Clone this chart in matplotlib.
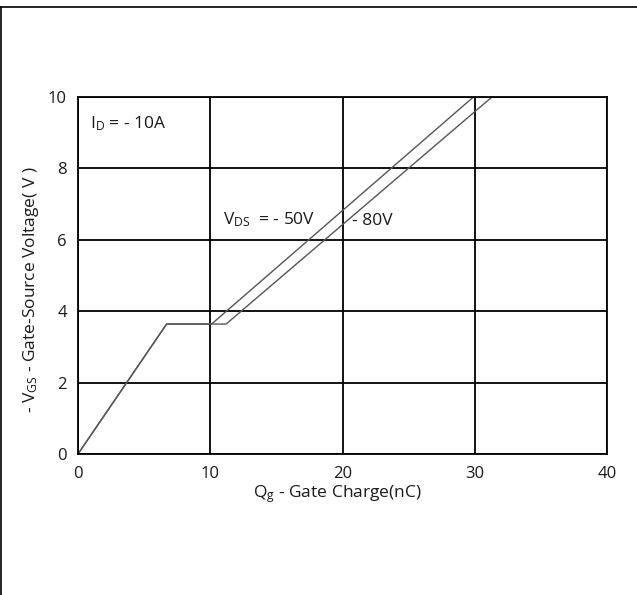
import matplotlib
matplotlib.use("Agg")
import matplotlib.pyplot as plt
from matplotlib.lines import Line2D

plt.rcParams["font.family"] = ["Open Sans", "DejaVu Sans"]
plt.rcParams["mathtext.fontset"] = "custom"
plt.rcParams["mathtext.rm"] = "Open Sans"
plt.rcParams["mathtext.it"] = "Open Sans"
plt.rcParams["mathtext.bf"] = "Open Sans:bold"

# Gate charge curves (Qg in nC, -VGS in V)
qg_50v = [0, 6.7, 10.1, 29.9]
vgs_50v = [0, 3.64, 3.64, 10]
qg_80v = [0, 6.7, 11.2, 31.3]
vgs_80v = [0, 3.64, 3.64, 10]

x_ticks = [0, 10, 20, 30, 40]
y_ticks = [0, 2, 4, 6, 8, 10]

TEXT = "#1a1a1a"
CURVE = "#555555"
FS = 12

fig = plt.figure(figsize=(6.37, 5.95), dpi=100)
ax = fig.add_axes([78 / 637, 1 - 454 / 595, 529 / 637, 357 / 595])

ax.plot(qg_50v, vgs_50v, color=CURVE, linewidth=1.0)
ax.plot(qg_80v, vgs_80v, color=CURVE, linewidth=1.0)

ax.set_xlim(0, 40)
ax.set_ylim(0, 10)
ax.set_xticks(x_ticks)
ax.set_yticks(y_ticks)
ax.grid(True, color="black", linewidth=1.3)
ax.tick_params(length=0, labelsize=FS, colors=TEXT)
ax.tick_params(axis="x", pad=9)
ax.tick_params(axis="y", pad=8)
for s in ax.spines.values():
    s.set_color("black")
    s.set_linewidth(1.3)

ax.set_xlabel("Q$_\\mathregular{g}$ - Gate Charge(nC)", fontsize=12.5, color=TEXT)
ax.xaxis.set_label_coords((337 - 78) / 529, -(483 - 454) / 357)
ax.set_ylabel("- V$_\\mathregular{GS}$ - Gate-Source Voltage( V )", fontsize=12.5, color=TEXT)
ax.yaxis.set_label_coords(-(78 - 41) / 529, (454 - 290) / 357)

ax.text(0.9, 9.24, "I$_\\mathregular{D}$ = - 10A", fontsize=12.5, color=TEXT, va="center")
ax.text(11.0, 6.57, "V$_\\mathregular{DS}$  = - 50V", fontsize=12.5, color=TEXT, va="center")
ax.text(20.75, 6.52, "- 80V", fontsize=12.5, color=TEXT, va="center")

# outer frame lines (top and left only)
fig.add_artist(Line2D([1.5 / 637, 1], [1 - 6.5 / 595, 1 - 6.5 / 595], color="black", linewidth=1.2))
fig.add_artist(Line2D([1.5 / 637, 1.5 / 637], [0, 1 - 6.5 / 595], color="black", linewidth=1.2))

fig.savefig("out.png", dpi=100)
